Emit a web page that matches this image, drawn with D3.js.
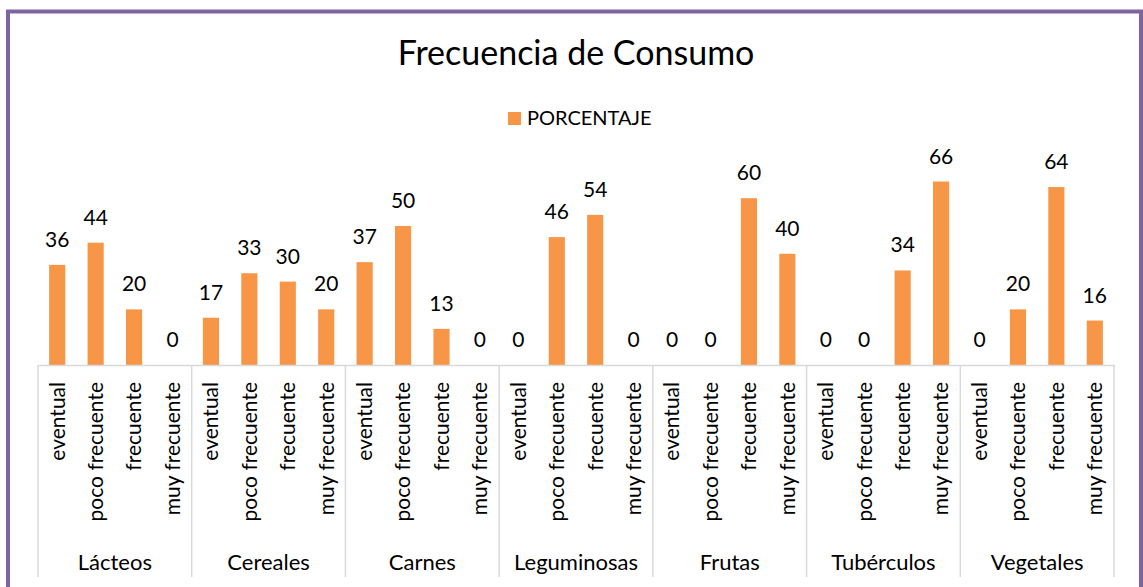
<!DOCTYPE html>
<html>
<head>
<meta charset="utf-8">
<script src="https://cdn.jsdelivr.net/npm/d3@7"></script>
<style>
  body { margin: 0; background: #fff; }
  text { font-family: Lato, "Open Sans", sans-serif; fill: #000; }
</style>
</head>
<body>
<div id="wrapper"></div>
<script>
// datos
const groups = ["Lácteos", "Cereales", "Carnes", "Leguminosas", "Frutas", "Tubérculos", "Vegetales"];
const levels = ["eventual", "poco frecuente", "frecuente", "muy frecuente"];
const porcentaje = [
    36, 44, 20, 0,
    17, 33, 30, 20,
    37, 50, 13, 0,
    0, 46, 54, 0,
    0, 0, 60, 40,
    0, 0, 34, 66,
    0, 20, 64, 16
];
const seriesName = "PORCENTAJE";
const title = "Frecuencia de Consumo";

const width = 1143, height = 587;
const axisY = 365, left = 38, right = 1114;
const barColor = "#F79646";
const gridColor = "#D9D9D9";

const data = [];
groups.forEach((g, gi) => levels.forEach((l, li) => {
    data.push({ key: g + "|" + l, group: g, level: l, value: porcentaje[gi * levels.length + li] });
}));

const svg = d3.select("#wrapper").append("svg")
    .attr("width", width)
    .attr("height", height);

// marco morado
svg.append("rect")
    .attr("x", 8).attr("y", 11.5)
    .attr("width", 1133).attr("height", 620)
    .attr("fill", "none")
    .attr("stroke", "#8064A2")
    .attr("stroke-width", 4);

svg.append("text")
    .attr("x", 576).attr("y", 65)
    .attr("text-anchor", "middle")
    .style("font-size", "34px")
    .text(title);

// leyenda
svg.append("rect")
    .attr("x", 508).attr("y", 112)
    .attr("width", 13).attr("height", 13)
    .attr("fill", barColor);
svg.append("text")
    .attr("x", 527).attr("y", 125)
    .style("font-size", "20px")
    .text(seriesName);

const xScaler = d3.scaleBand()
    .domain(data.map(d => d.key))
    .range([left, right]);

const groupScaler = d3.scaleBand()
    .domain(groups)
    .range([left, right]);

const yScaler = d3.scaleLinear()
    .domain([0, 70])
    .range([axisY, axisY - 70 * 2.78]);

const barW = xScaler.bandwidth() * 0.42;

svg.append("g")
    .selectAll("rect")
    .data(data)
    .join("rect")
    .attr("x", d => xScaler(d.key) + (xScaler.bandwidth() - barW) / 2)
    .attr("y", d => yScaler(d.value))
    .attr("width", barW)
    .attr("height", d => axisY - yScaler(d.value))
    .attr("fill", barColor);

// etiquetas de valores
svg.append("g")
    .selectAll("text")
    .data(data)
    .join("text")
    .attr("x", d => xScaler(d.key) + xScaler.bandwidth() / 2)
    .attr("y", d => yScaler(d.value) - 18)
    .attr("text-anchor", "middle")
    .style("font-size", "21px")
    .text(d => d.value);

// eje inferior de dos niveles
const xAxis = svg.append("g")
    .attr("transform", `translate(0,${axisY})`)
    .call(d3.axisBottom(xScaler).tickSize(0).tickFormat(d => d.split("|")[1]));
xAxis.select(".domain").attr("stroke", gridColor).attr("stroke-width", 1.5);
xAxis.selectAll(".tick text")
    .attr("transform", "rotate(-90)")
    .attr("text-anchor", "end")
    .attr("x", -17)
    .attr("y", 0)
    .attr("dy", "0.35em")
    .style("font-size", "21px")
    .style("font-family", "Lato, sans-serif")
    .attr("fill", "#000");

const groupAxis = svg.append("g")
    .attr("transform", `translate(0,${axisY})`);
groupAxis.selectAll("line")
    .data(groups.concat(["end"]))
    .join("line")
    .attr("x1", (d, i) => left + i * groupScaler.bandwidth())
    .attr("x2", (d, i) => left + i * groupScaler.bandwidth())
    .attr("y1", 0)
    .attr("y2", 212)
    .attr("stroke", gridColor)
    .attr("stroke-width", 1.5);
groupAxis.selectAll("text")
    .data(groups)
    .join("text")
    .attr("x", d => groupScaler(d) + groupScaler.bandwidth() / 2)
    .attr("y", 205)
    .attr("text-anchor", "middle")
    .style("font-size", "22px")
    .text(d => d);
</script>
</body>
</html>
